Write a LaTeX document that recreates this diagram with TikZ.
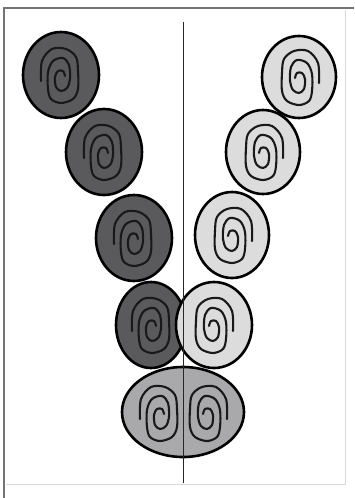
\documentclass[tikz,border=0pt]{standalone}
\usetikzlibrary{shapes.geometric}
\definecolor{darkfill}{HTML}{5A5A5C}
\definecolor{lightfill}{HTML}{DCDCDC}
\definecolor{midfill}{HTML}{A9A9AB}
\tikzset{
  blob/.style={ellipse, draw=black, line width=2.6pt, inner sep=0pt},
  swirlline/.style={draw=black!90, line width=2.1pt, line join=round, line cap=round},
  swirl/.pic={
    \draw[swirlline] plot[smooth, tension=0.55] coordinates {
      (-20,6) (-19,-14) (-9,-26) (5,-26) (15,-18) (17,-4) (17,14) (12,24)
      (0,28) (-10,24) (-13,14) (-13,-3) (-8,-14) (2,-17) (8,-10) (9,4)
      (6,13) (0,16) (-5,12) (-6,2) (-3,-4) (2,-4) (4,1)};
  }
}
\begin{document}
\begin{tikzpicture}[x=1pt,y=-1pt]
\useasboundingbox (0,0) rectangle (354,498);
\fill[white] (0,0) rectangle (354,498);
% frame
\draw[black!15, line width=1pt] (6,484) -- (345,484) -- (345,10);
\draw[black!55, line width=2pt] (4,498) -- (4,8) -- (354,8);
% bottom ellipse
\node[blob, fill=midfill, minimum width=122pt, minimum height=90pt] (b) at (183,412) {};
\pic at (160,413) {swirl};
\pic[xscale=-1] at (207,413) {swirl};
% row 4
\node[blob, fill=darkfill, minimum width=70pt, minimum height=86pt] (l4) at (151,325) {};
\pic at (152,325) {swirl};
\node[blob, fill=lightfill, minimum width=76pt, minimum height=86pt] (r4) at (214,325) {};
\pic[xscale=-1] at (213,325) {swirl};
% row 3
\node[blob, fill=darkfill, minimum width=76pt, minimum height=86pt] (l3) at (134,238) {};
\pic at (134,238) {swirl};
\node[blob, fill=lightfill, minimum width=74pt, minimum height=86pt] (r3) at (232,235) {};
\pic[xscale=-1] at (232,235) {swirl};
% row 2
\node[blob, fill=darkfill, minimum width=76pt, minimum height=86pt] (l2) at (104,152) {};
\pic at (104,152) {swirl};
\node[blob, fill=lightfill, minimum width=74pt, minimum height=84pt] (r2) at (263,152) {};
\pic[xscale=-1] at (263,152) {swirl};
% row 1
\node[blob, fill=darkfill, minimum width=76pt, minimum height=86pt] (l1) at (61,75) {};
\pic at (61,75) {swirl};
\node[blob, fill=lightfill, minimum width=74pt, minimum height=82pt] (r1) at (299,77) {};
\pic[xscale=-1] at (299,77) {swirl};
% axis
\coordinate (atop) at (183,22);
\coordinate (abot) at (183,483);
\draw[black!85, line width=1pt] (atop) -- (abot);
\end{tikzpicture}
\end{document}
